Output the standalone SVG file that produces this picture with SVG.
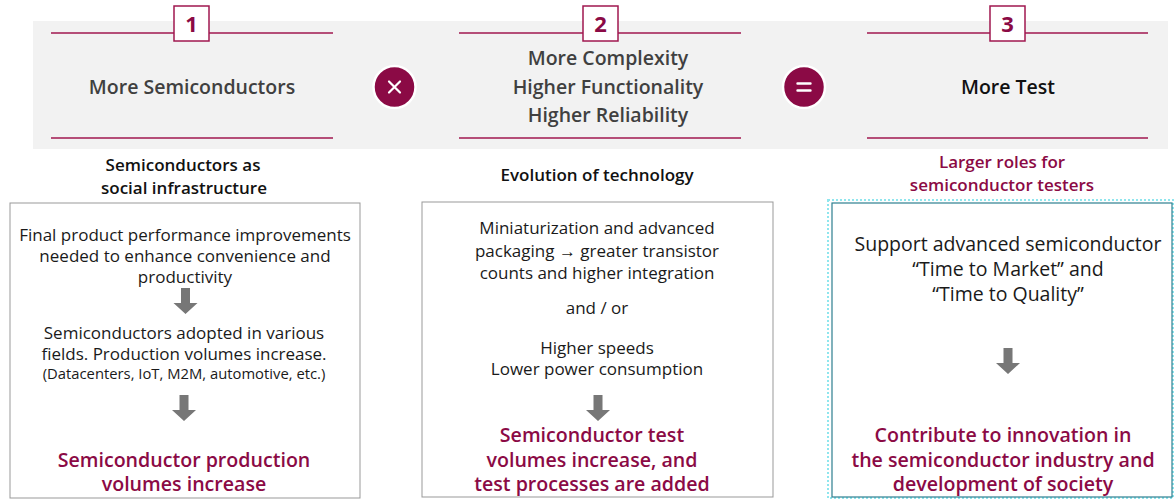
<svg xmlns="http://www.w3.org/2000/svg" width="1174" height="499" viewBox="0 0 1174 499">
<defs>
<style>
text{font-family:"Open Sans","Noto Sans","Liberation Sans",sans-serif;text-anchor:middle}
.hd{font-size:19.5px;font-weight:600;fill:#404040}
.num{font-size:22px;font-weight:700;fill:#8B0A45}
.sub{font-size:17px;font-weight:600;fill:#111}
.subr{font-size:17px;font-weight:600;fill:#8B0A45}
.body{font-size:17px;fill:#1a1a1a}
.small{font-size:14.8px;fill:#1a1a1a}
.b3{font-size:19.5px;fill:#1a1a1a}
.red{font-size:19.6px;font-weight:600;fill:#8B0A45}
.rule{stroke:#A0174F;stroke-width:1.3}
.nbox{fill:#fff;stroke:#A0174F;stroke-width:1.5}
.box{fill:#fff;stroke:#999;stroke-width:1}
.op{fill:#8B0A45;stroke:#fff;stroke-width:2.5}
.arw{fill:#777}
</style>
<path id="dn" d="M-4.5,0 H4.5 V15 H12 L0,26 L-12,15 H-4.5 Z"/>
</defs>
<rect x="33" y="21" width="1135" height="128" fill="#F2F2F2"/>

<g id="node1">
<line class="rule" x1="51" y1="33" x2="333" y2="33"/>
<line class="rule" x1="51" y1="138" x2="333" y2="138"/>
<rect class="nbox" x="174" y="6" width="35" height="35"/>
<text class="num" x="191.5" y="32">1</text>
<text class="hd" x="192" y="94">More Semiconductors</text>
<text class="sub" x="183" y="171">Semiconductors as</text>
<text class="sub" x="184" y="194">social infrastructure</text>
<rect class="box" x="10" y="203" width="350" height="295"/>
<text class="body" x="185" y="241">Final product performance improvements</text>
<text class="body" x="185" y="262">needed to enhance convenience and</text>
<text class="body" x="185" y="283">productivity</text>
<use href="#dn" class="arw" x="185.5" y="288"/>
<text class="body" x="184" y="339">Semiconductors adopted in various</text>
<text class="body" x="184" y="360">fields. Production volumes increase.</text>
<text class="small" x="184" y="379">(Datacenters, IoT, M2M, automotive, etc.)</text>
<use href="#dn" class="arw" x="184" y="395"/>
<text class="red" x="184" y="467">Semiconductor production</text>
<text class="red" x="184" y="491">volumes increase</text>
</g>

<g id="op-times">
<circle class="op" cx="394.5" cy="87" r="21"/>
<path d="M389,81.5 L400,92.5 M400,81.5 L389,92.5" stroke="#fff" stroke-width="2.2" stroke-linecap="round"/>
</g>

<g id="node2">
<line class="rule" x1="459" y1="33" x2="741" y2="33"/>
<line class="rule" x1="459" y1="138" x2="741" y2="138"/>
<rect class="nbox" x="583" y="6" width="35" height="35"/>
<text class="num" x="600.5" y="32">2</text>
<text class="hd" x="608" y="65">More Complexity</text>
<text class="hd" x="608" y="94">Higher Functionality</text>
<text class="hd" x="608" y="122">Higher Reliability</text>
<text class="sub" x="597" y="181">Evolution of technology</text>
<rect class="box" x="422" y="202" width="351" height="295"/>
<text class="body" x="597" y="234">Miniaturization and advanced</text>
<text class="body" x="597" y="257">packaging → greater transistor</text>
<text class="body" x="597" y="279">counts and higher integration</text>
<text class="body" x="597" y="314">and / or</text>
<text class="body" x="597" y="354">Higher speeds</text>
<text class="body" x="597" y="375">Lower power consumption</text>
<use href="#dn" class="arw" x="598" y="395"/>
<text class="red" x="592" y="442">Semiconductor test</text>
<text class="red" x="592" y="467">volumes increase, and</text>
<text class="red" x="592" y="491">test processes are added</text>
</g>

<g id="op-equals">
<circle class="op" cx="804" cy="87" r="21"/>
<path d="M797.5,83.5 H810.5 M797.5,90.5 H810.5" stroke="#fff" stroke-width="2.4" stroke-linecap="round"/>
</g>

<g id="node3">
<line class="rule" x1="867" y1="33" x2="1148" y2="33"/>
<line class="rule" x1="867" y1="138" x2="1148" y2="138"/>
<rect class="nbox" x="990" y="6" width="35" height="35"/>
<text class="num" x="1007.5" y="32">3</text>
<text class="hd" x="1008" y="94" style="fill:#111">More Test</text>
<text class="subr" x="1002" y="168">Larger roles for</text>
<text class="subr" x="1002" y="191">semiconductor testers</text>
<rect x="828" y="200" width="345" height="298" fill="none" stroke="#8FE6EE" stroke-width="2" stroke-dasharray="2 2"/>
<rect x="832" y="203" width="340" height="294" fill="#fff" stroke="#2E7F8F" stroke-width="1.2"/>
<text class="b3" x="1008" y="251">Support advanced semiconductor</text>
<text class="b3" x="1008" y="276">“Time to Market” and</text>
<text class="b3" x="1008" y="301">“Time to Quality”</text>
<use href="#dn" class="arw" x="1008" y="348"/>
<text class="red" x="1003" y="442">Contribute to innovation in</text>
<text class="red" x="1003" y="467">the semiconductor industry and</text>
<text class="red" x="1003" y="491">development of society</text>
</g>

<g id="connectors"></g>
</svg>
